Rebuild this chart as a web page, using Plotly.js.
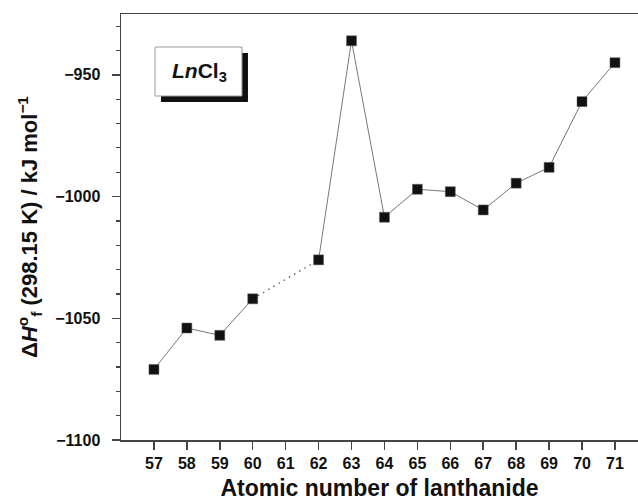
<!DOCTYPE html>
<html>
<head>
<meta charset="utf-8">
<script src="https://cdn.plot.ly/plotly-3.0.1.min.js"></script>
<style>html,body{margin:0;padding:0;background:#fff;}#chart{width:638px;height:501px;}</style>
</head>
<body>
<div id="chart"></div>
<script>
// Data
const atomicNumbers = [57, 58, 59, 60, 62, 63, 64, 65, 66, 67, 68, 69, 70, 71];
const enthalpy = [-1071, -1054, -1057, -1042, -1026, -936, -1008.5, -997, -998, -1005.5, -994.5, -988, -961, -945];
const xTickValues = [57, 58, 59, 60, 61, 62, 63, 64, 65, 66, 67, 68, 69, 70, 71];
const xTickLabels = ['57','58','59','60','61','62','63','64','65','66','67','68','69','70','71'];
const yTickValues = [-1100, -1050, -1000, -950];
const yTickLabels = ['\u22121100', '\u22121050', '\u22121000', '\u2212950'];

// split: solid before gap, dotted across gap (60 -> 62), solid after
const gapIndex = atomicNumbers.indexOf(60);
const x1 = atomicNumbers.slice(0, gapIndex + 1), y1 = enthalpy.slice(0, gapIndex + 1);
const x2 = atomicNumbers.slice(gapIndex, gapIndex + 2), y2 = enthalpy.slice(gapIndex, gapIndex + 2);
const x3 = atomicNumbers.slice(gapIndex + 1), y3 = enthalpy.slice(gapIndex + 1);

const FONT = 'Liberation Sans, Arial, Helvetica, sans-serif';
const lineStyle = {color: '#777', width: 1};
const markerStyle = {symbol: 'square', size: 10, color: '#111', line: {color: '#666', width: 0.5}};

const traces = [
  {x: x2, y: y2, mode: 'lines', line: {color: '#555', width: 1.3, dash: '1.5px,4.5px'}, hoverinfo: 'skip'},
  {x: x1, y: y1, mode: 'lines+markers', line: lineStyle, marker: markerStyle},
  {x: x3, y: y3, mode: 'lines+markers', line: lineStyle, marker: markerStyle}
];

const layout = {
  width: 638, height: 501,
  margin: {l: 121, r: 0, t: 14, b: 61},
  paper_bgcolor: '#fff', plot_bgcolor: '#fff',
  showlegend: false,
  font: {family: FONT, color: '#111'},
  xaxis: {
    range: [56, 71.7],
    tickvals: xTickValues, ticktext: xTickLabels,
    ticks: 'outside', ticklen: 8, tickwidth: 1.5, tickcolor: '#444',
    showline: true, linecolor: '#444', linewidth: 1.5, mirror: true,
    showgrid: false, zeroline: false,
    tickfont: {family: FONT, size: 16, weight: 'bold', color: '#111'},
    title: {text: 'Atomic number of lanthanide', font: {family: FONT, size: 23, weight: 'bold', color: '#111'}, standoff: 11}
  },
  yaxis: {
    range: [-1100, -925],
    tickvals: yTickValues, ticktext: yTickLabels,
    ticks: 'outside', ticklen: 8, tickwidth: 1.5, tickcolor: '#444',
    minor: {dtick: 10, tick0: -1100, ticks: 'outside', ticklen: 4, tickwidth: 1.2, tickcolor: '#444', showgrid: false},
    showline: true, linecolor: '#444', linewidth: 1.5, mirror: false,
    showgrid: false, zeroline: false,
    ticklabelstandoff: 8,
    tickfont: {family: FONT, size: 16, weight: 'bold', color: '#111'},
    title: {text: '\u0394<i>H</i><sup>o</sup><sub>f</sub> (298.15 K) / kJ mol<sup>\u22121</sup>', font: {family: FONT, size: 22, weight: 'bold', color: '#111'}, standoff: 11}
  },
  shapes: [
    {type: 'rect', xref: 'paper', yref: 'paper', x0: 0.0774, x1: 0.2456, y0: 0.7934, y1: 0.9085, fillcolor: '#111', line: {width: 0}, layer: 'above'},
    {type: 'rect', xref: 'paper', yref: 'paper', x0: 0.0658, x1: 0.234, y0: 0.8075, y1: 0.9225, fillcolor: '#fff', line: {color: '#999', width: 1}, layer: 'above'}
  ],
  annotations: [
    {xref: 'paper', yref: 'paper', x: 0.151, y: 0.865, xanchor: 'center', yanchor: 'middle', showarrow: false,
     text: '<i>Ln</i>Cl<sub>3</sub>', font: {family: FONT, size: 21, weight: 'bold', color: '#111'}}
  ]
};

Plotly.newPlot('chart', traces, layout, {displayModeBar: false, staticPlot: true});
</script>
</body>
</html>
